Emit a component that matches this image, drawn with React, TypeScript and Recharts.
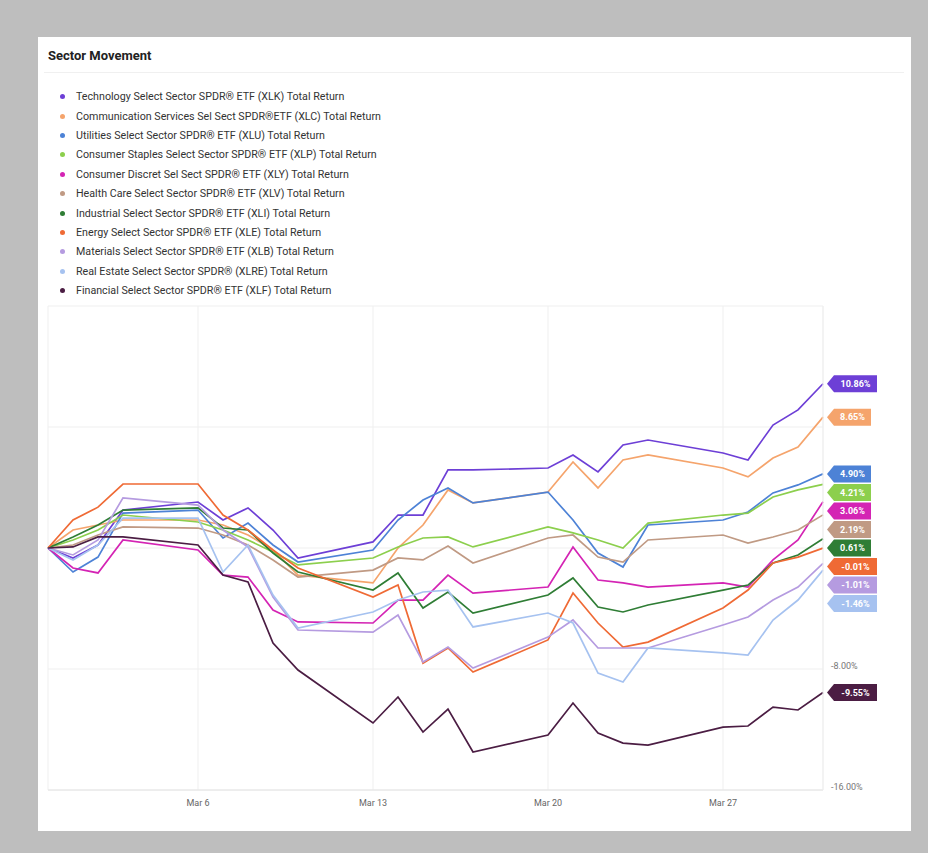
import { LineChart, Line, XAxis, YAxis, CartesianGrid, LabelList } from 'recharts'

// trading days, as day of March (Feb 28 = 0)
const DAYS = [0, 1, 2, 3, 6, 7, 8, 9, 10, 13, 14, 15, 16, 17, 20, 21, 22, 23, 24, 27, 28, 29, 30, 31]
const X_TICKS = [6, 13, 20, 27]
const X_LABELS = ['Mar 6', 'Mar 13', 'Mar 20', 'Mar 27']
const Y_TICKS = [-16, -8, 0, 8, 16]
const Y_LABELS = ['-16.00%', '-8.00%', '', '', '']

// total return, %
const XLK = [0, -0.66, 0.2, 2.51, 3.04, 1.85, 2.65, 1.19, -0.66, 0.4, 2.18, 2.18, 5.16, 5.16, 5.29, 6.15, 5.03, 6.81, 7.14, 6.28, 5.82, 8.13, 9.13, 10.86]
const XLC = [0, 1.19, 1.52, 1.85, 1.85, 1.52, 0.86, -0.13, -1.79, -2.31, 0, 1.52, 3.84, 2.98, 3.7, 5.69, 3.97, 5.82, 6.15, 5.29, 4.7, 5.95, 6.68, 8.65]
const XLU = [0, -1.59, -0.6, 2.31, 2.51, 0.66, 1.65, 0.2, -0.93, -0.13, 1.85, 3.17, 3.97, 2.98, 3.7, 1.85, -0.33, -1.26, 1.52, 1.85, 2.38, 3.64, 4.17, 4.9]
const XLP = [0, 0.53, 1.19, 2.18, 1.72, 1.19, 0.53, -0.26, -1.12, -0.66, 0.07, 0.66, 0.73, 0.07, 1.39, 1.0, 0.53, 0, 1.65, 2.18, 2.31, 3.37, 3.84, 4.21]
const XLY = [0, -1.32, -1.65, 0.53, -0.13, -1.79, -1.92, -4.1, -4.89, -4.96, -3.44, -3.44, -1.79, -2.98, -2.58, 0.07, -2.12, -2.31, -2.58, -2.31, -2.58, -0.79, 0.53, 3.06]
const XLV = [0, 0.2, 0.86, 1.39, 1.32, 0.86, 0.2, -0.79, -1.92, -1.46, -0.66, -0.79, 0.13, -0.99, 0.66, 0.86, -0.6, -0.93, 0.53, 0.86, 0.33, 0.73, 1.19, 2.19]
const XLI = [0, 0.73, 1.52, 2.51, 2.65, 1.32, 1.19, -0.33, -1.59, -2.78, -1.65, -3.97, -2.91, -4.3, -3.11, -1.98, -3.9, -4.23, -3.77, -2.78, -2.45, -0.99, -0.46, 0.61]
const XLE = [0, 1.85, 2.7, 4.23, 4.23, 2.18, 1.19, -0.13, -1.32, -3.24, -2.45, -7.61, -6.61, -8.2, -6.08, -2.98, -4.96, -6.55, -6.22, -3.97, -2.78, -0.99, -0.6, -0.01]
const XLB = [0, -0.46, 0.53, 3.31, 2.84, 1.19, 0.07, -3.24, -5.42, -5.56, -4.43, -7.54, -6.55, -7.94, -5.89, -4.76, -6.61, -6.61, -6.61, -5.09, -4.56, -3.44, -2.58, -1.01]
const XLRE = [0, -0.79, 0.2, 1.98, 1.98, -1.59, 0.2, -3.11, -5.29, -4.23, -3.44, -2.91, -2.78, -5.22, -4.3, -4.96, -8.27, -8.86, -6.61, -6.94, -7.08, -4.76, -3.44, -1.46]
const XLF = [0, 0.07, 0.73, 0.73, 0.2, -1.79, -2.25, -6.28, -8.07, -11.57, -9.85, -12.17, -10.65, -13.49, -12.37, -10.25, -12.24, -12.9, -13.03, -11.84, -11.77, -10.52, -10.71, -9.55]

const SERIES = [
  { key: 'XLK', name: 'Technology Select Sector SPDR® ETF (XLK) Total Return', color: '#6d3fd6', values: XLK },
  { key: 'XLC', name: 'Communication Services Sel Sect SPDR®ETF (XLC) Total Return', color: '#f5a46c', values: XLC },
  { key: 'XLU', name: 'Utilities Select Sector SPDR® ETF (XLU) Total Return', color: '#4d82d6', values: XLU },
  { key: 'XLP', name: 'Consumer Staples Select Sector SPDR® ETF (XLP) Total Return', color: '#8ccf4d', values: XLP },
  { key: 'XLY', name: 'Consumer Discret Sel Sect SPDR® ETF (XLY) Total Return', color: '#d424b4', values: XLY },
  { key: 'XLV', name: 'Health Care Select Sector SPDR® ETF (XLV) Total Return', color: '#c09a84', values: XLV },
  { key: 'XLI', name: 'Industrial Select Sector SPDR® ETF (XLI) Total Return', color: '#2f7d35', values: XLI },
  { key: 'XLE', name: 'Energy Select Sector SPDR® ETF (XLE) Total Return', color: '#ef6a35', values: XLE },
  { key: 'XLB', name: 'Materials Select Sector SPDR® ETF (XLB) Total Return', color: '#b59be0', values: XLB },
  { key: 'XLRE', name: 'Real Estate Select Sector SPDR® (XLRE) Total Return', color: '#a6c2f0', values: XLRE },
  { key: 'XLF', name: 'Financial Select Sector SPDR® ETF (XLF) Total Return', color: '#4b1d43', values: XLF },
]

const data = DAYS.map((day, i) => {
  const row: Record<string, number> = { day }
  SERIES.forEach((s) => { row[s.key] = s.values[i] })
  return row
})

const FONT = 'Roboto, "Noto Sans", sans-serif'
const PLOT_H = 484
const PX_PER_PCT = PLOT_H / 32
const FLAG_GAP = 18.5
const last = (s: { values: number[] }) => s.values[s.values.length - 1]

// end labels get pushed down so they don't sit on top of each other
const flagShift: Record<string, number> = {}
{
  let prev = -Infinity
  ;[...SERIES].sort((a, b) => last(b) - last(a)).forEach((s) => {
    const y = -last(s) * PX_PER_PCT
    const yy = Math.max(y, prev + FLAG_GAP)
    flagShift[s.key] = yy - y
    prev = yy
  })
}

function Flag(props: any) {
  const { x, y, index, color, text, shift } = props
  if (index !== DAYS.length - 1) return null
  const w = text.length * 6 + 7
  const cy = y + shift
  const x0 = x + 4
  return (
    <g>
      <path d={`M${x0},${cy} L${x0 + 7},${cy - 8.5} H${x0 + 7 + w} V${cy + 8.5} H${x0 + 7} Z`} fill={color} />
      <text x={x0 + 7 + w / 2} y={cy} dy="0.35em" textAnchor="middle" fill="#fff" fontSize={9} fontWeight={700} fontFamily={FONT}>
        {text}
      </text>
    </g>
  )
}

export default function App() {
  return (
    <div style={{ position: 'absolute', left: 0, top: 0, width: 928, height: 853, background: '#bebebe', fontFamily: FONT }}>
      <div style={{ position: 'absolute', left: 38, top: 37, width: 873, height: 794, background: '#fff' }} />
      <div style={{ position: 'absolute', left: 48, top: 48, fontSize: 13, fontWeight: 700, color: '#222' }}>Sector Movement</div>
      <div style={{ position: 'absolute', left: 44, top: 72, width: 860, height: 1, background: '#f0f0f0' }} />
      <div style={{ position: 'absolute', left: 60, top: 87 }}>
        {SERIES.map((s) => (
          <div key={s.key} style={{ height: 19.4, display: 'flex', alignItems: 'center', fontSize: 10.7, color: '#333', whiteSpace: 'nowrap' }}>
            <span style={{ width: 5, height: 5, borderRadius: '50%', background: s.color, marginRight: 11 }} />
            {s.name}
          </div>
        ))}
      </div>
      <div style={{ position: 'absolute', left: 0, top: 0 }}>
        <LineChart width={928} height={853} data={data} margin={{ top: 306, right: 45, bottom: 33, left: 48 }}>
          <CartesianGrid stroke="#efefef" strokeWidth={1} />
          <XAxis
            dataKey="day"
            type="number"
            domain={[0, 31]}
            ticks={X_TICKS}
            tickFormatter={(v) => X_LABELS[X_TICKS.indexOf(v)]}
            axisLine={{ stroke: '#e4e4e4' }}
            tickLine={false}
            tickMargin={4}
            height={30}
            tick={{ fontSize: 9, fill: '#666', fontFamily: FONT }}
          />
          <YAxis
            orientation="right"
            type="number"
            domain={[-16, 16]}
            ticks={Y_TICKS}
            tickFormatter={(v) => Y_LABELS[Y_TICKS.indexOf(v)]}
            axisLine={{ stroke: '#efefef' }}
            tickLine={false}
            width={60}
            tick={{ fontSize: 9, fill: '#777', fontFamily: FONT, dy: -3 }}
          />
          {SERIES.map((s) => (
            <Line
              key={s.key}
              dataKey={s.key}
              name={s.name}
              type="linear"
              stroke={s.color}
              strokeWidth={1.7}
              dot={false}
              isAnimationActive={false}
            >
              <LabelList
                dataKey={s.key}
                content={(p: any) => (
                  <Flag {...p} color={s.color} text={`${last(s).toFixed(2)}%`} shift={flagShift[s.key]} />
                )}
              />
            </Line>
          ))}
        </LineChart>
      </div>
    </div>
  )
}
